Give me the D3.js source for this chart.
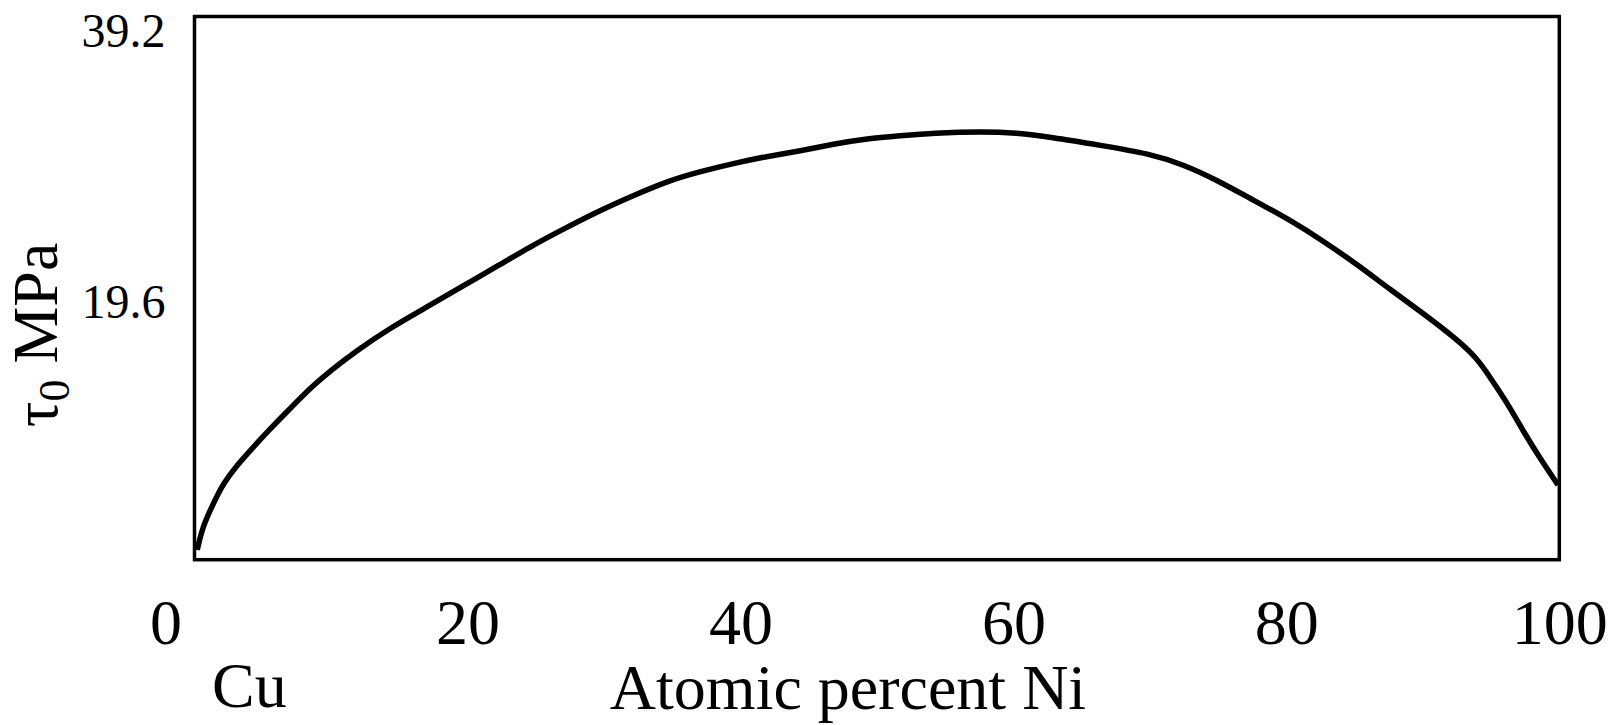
<!DOCTYPE html>
<html>
<head>
<meta charset="utf-8">
<script src="https://cdn.jsdelivr.net/npm/d3@7"></script>
<style>
  body { margin: 0; background: #fff; }
  svg { display: block; font-family: "Liberation Serif", "Times New Roman", serif; }
</style>
</head>
<body>
<svg id="ctner"></svg>
<script>
// atomic percent Ni (x) and tau_0 in MPa (y)
const nickel = [0.2, 0.6, 1.4, 2.1, 3.1, 4.1, 5.5, 7.0, 8.5, 9.9, 11.9, 14.3, 16.8, 19.2,
  22.4, 24.8, 27.3, 29.7, 32.2, 34.6, 37.0, 39.5, 41.9, 44.4, 46.8, 49.3, 51.7, 54.1,
  57.8, 60.2, 62.7, 66.4, 70.0, 72.5, 74.9, 77.3, 80.3, 82.7, 85.2, 87.6, 90.0, 92.5,
  94.0, 94.9, 96.2, 97.4, 98.6, 99.9];
const tau = [0.7, 2.4, 4.1, 5.5, 6.8, 7.9, 9.4, 10.9, 12.4, 13.6, 15.1, 16.7, 18.1, 19.5,
  21.3, 22.7, 24.0, 25.2, 26.3, 27.3, 28.0, 28.6, 29.1, 29.5, 30.0, 30.4, 30.6, 30.8,
  30.9, 30.8, 30.5, 29.9, 29.3, 28.5, 27.4, 26.1, 24.5, 23.0, 21.3, 19.5, 17.8, 15.9,
  14.5, 13.2, 11.3, 9.2, 7.3, 5.4];
const xTicks = [0, 20, 40, 60, 80, 100];
const yTicks = [19.6, 39.2];

main();

function main() {
  const width = 1617;
  const height = 725;
  const margin = { top: 16.5, left: 194.5, bottom: 165.3, right: 57.7 };
  const innerW = width - margin.left - margin.right;
  const innerH = height - margin.top - margin.bottom;

  const svg = d3.select("#ctner").attr("width", width).attr("height", height);

  /* scales */
  const x = d3.scaleLinear().domain([0, 100]).range([0, innerW]);
  const y = d3.scaleLinear().domain([0, 39.2]).range([innerH, 0]);

  const g = svg.append("g").attr("transform", `translate(${margin.left}, ${margin.top})`);

  /* axes: labels only, no tick marks */
  g.append("g")
    .attr("transform", `translate(0, ${innerH})`)
    .call(d3.axisBottom(x).tickValues(xTicks).tickSize(0).tickPadding(39))
    .call((a) => a.select(".domain").remove())
    .call((a) =>
      a.selectAll("text")
        .attr("font-family", "Liberation Serif")
        .attr("font-size", 64)
        .attr("fill", "#000")
        .attr("dx", (d) => (d === 0 ? -29 : 0))
    );

  g.append("g")
    .call(d3.axisLeft(y).tickValues(yTicks).tickSize(0).tickPadding(29).tickFormat(d3.format(".1f")))
    .call((a) => a.select(".domain").remove())
    .call((a) =>
      a.selectAll("text")
        .attr("font-family", "Liberation Serif")
        .attr("font-size", 48)
        .attr("fill", "#000")
        .attr("dy", "0.62em")
    );

  /* curve */
  const points = nickel.map((n, i) => ({ n, t: tau[i] }));
  const line = d3.line()
    .x((d) => x(d.n))
    .y((d) => y(d.t))
    .curve(d3.curveBasis);

  g.append("path")
    .datum(points)
    .attr("fill", "none")
    .attr("stroke", "#000")
    .attr("stroke-width", 5.5)
    .attr("stroke-linejoin", "round")
    .attr("d", line);

  /* frame */
  g.append("rect")
    .attr("width", innerW)
    .attr("height", innerH)
    .attr("fill", "none")
    .attr("stroke", "#000")
    .attr("stroke-width", 3.5);

  /* titles */
  svg.append("text")
    .attr("x", 212)
    .attr("y", 707)
    .attr("font-size", 64)
    .text("Cu");

  svg.append("text")
    .attr("x", 848)
    .attr("y", 709)
    .attr("text-anchor", "middle")
    .attr("font-size", 64)
    .text("Atomic percent Ni");

  const yTitle = svg.append("text")
    .attr("transform", "translate(57, 335) rotate(-90)")
    .attr("text-anchor", "middle")
    .attr("font-size", 64);
  yTitle.append("tspan").text("τ");
  yTitle.append("tspan").attr("font-size", 44).attr("dy", 12).text("0");
  yTitle.append("tspan").attr("dy", -12).text(" MPa");
}
</script>
</body>
</html>
